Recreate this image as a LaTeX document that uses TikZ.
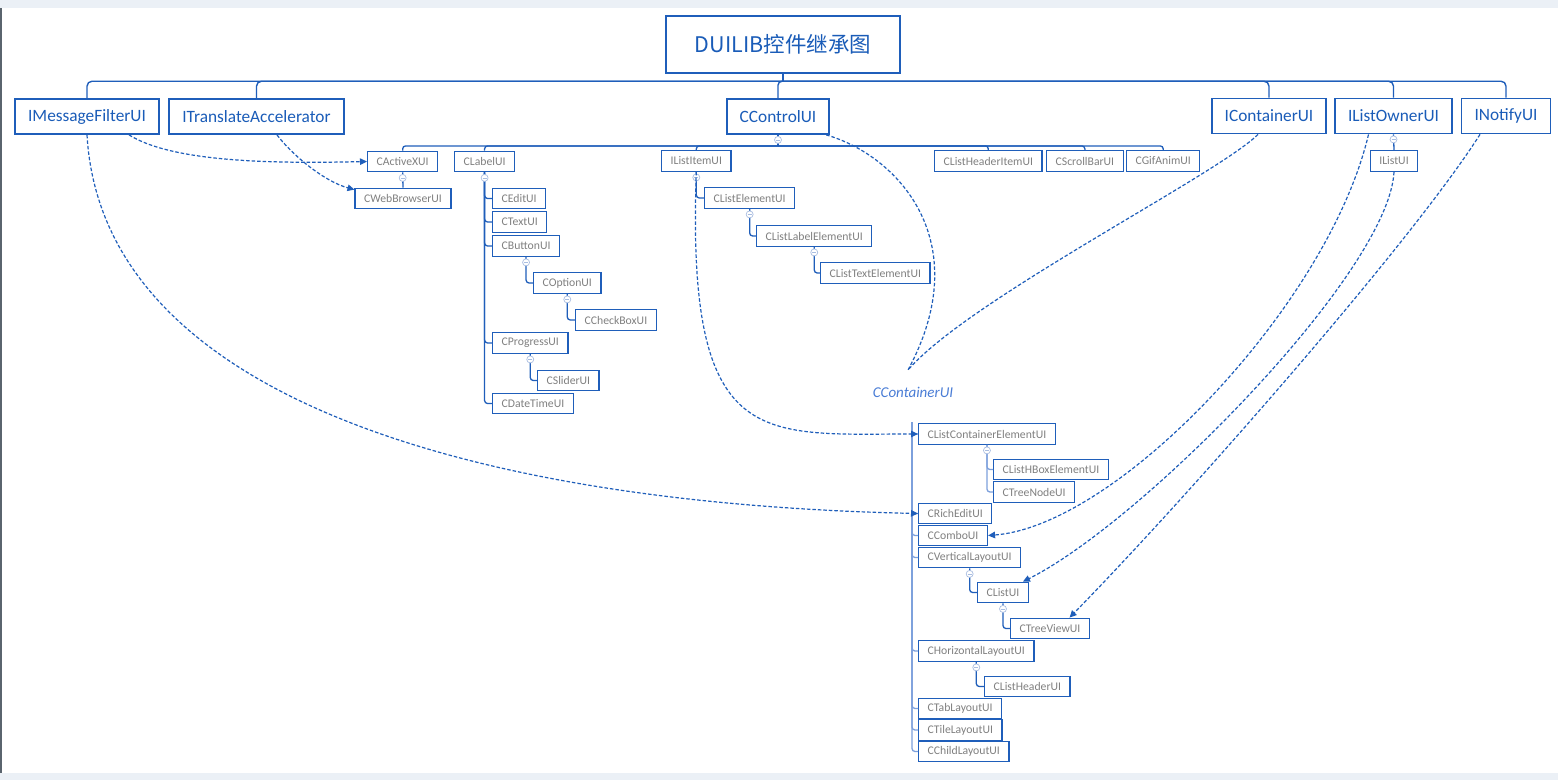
\documentclass[tikz,border=0pt]{standalone}
\usepackage{fontspec}
\setmainfont{Carlito}
\newfontfamily\cjkfont{Noto Sans CJK SC}
\usepackage{tikz}
\usetikzlibrary{arrows.meta}
\definecolor{duiblue}{RGB}{31,94,186}
\definecolor{toptext}{RGB}{26,92,184}
\definecolor{subtext}{RGB}{128,128,128}
\definecolor{foldring}{RGB}{170,190,225}
\definecolor{stemblue}{RGB}{125,160,220}
\definecolor{ghostblue}{RGB}{74,125,214}
\definecolor{bandgray}{RGB}{235,240,246}
\definecolor{edgegray}{RGB}{90,100,110}

\begin{document}
\begin{tikzpicture}[
        x=1pt, y=-1pt,
        titlebox/.style={rectangle, draw=duiblue, line width=2.4pt, fill=white, minimum height=57pt, inner xsep=29pt, inner ysep=0pt, text=toptext, font=\cjkfont\fontsize{21.5}{26}\selectfont},
        topclass/.style={rectangle, draw=duiblue, line width=1.8pt, fill=white, minimum height=35pt, inner xsep=13pt, inner ysep=0pt, text=toptext, font=\fontsize{17.3}{20}\selectfont},
        subclass/.style={rectangle, draw=duiblue, line width=1.3pt, fill=white, minimum height=20.5pt, inner xsep=9pt, inner ysep=0pt, text=subtext, font=\fontsize{11.7}{14}\selectfont},
        ghostlabel/.style={inner sep=2pt, text=ghostblue, font=\fontsize{15}{18}\selectfont\itshape},
        foldmark/.style={circle, draw=foldring, fill=white, line width=0.7pt, minimum size=7pt, inner sep=0pt,
            path picture={\draw[foldring, line width=0.7pt] ([xshift=-2pt]path picture bounding box.center) -- ([xshift=2pt]path picture bounding box.center);}},
        branch/.style={draw=duiblue, line width=1.3pt, rounded corners=3pt},
        lightbranch/.style={draw=stemblue, line width=1.3pt, rounded corners=3pt},
        implflow/.style={draw=duiblue, line width=1.2pt, dash pattern=on 3.5pt off 2pt, -{Triangle[length=7pt, width=6.5pt]}},
        implline/.style={draw=duiblue, line width=1.2pt, dash pattern=on 3.5pt off 2pt}
    ]
    \useasboundingbox (0,0) rectangle (1558,780);

    % Window frame
    \fill[white] (0,0) rectangle (1558,780);
    \fill[bandgray] (0,0) rectangle (1558,8);
    \fill[bandgray] (0,773) rectangle (1558,780);
    \fill[edgegray] (0,8) rectangle (2,773);

    % Root
    \node[titlebox] (title) at (783,44.5) {DUILIB控件继承图};

    % Top level classes
    \node[topclass] (msgfilter) at (87,116.5) {IMessageFilterUI};
    \node[topclass] (translate) at (256.5,116.5) {ITranslateAccelerator};
    \node[topclass] (control) at (778,116.5) {CControlUI};
    \node[topclass] (icontainer) at (1269,116) {IContainerUI};
    \node[topclass] (listowner) at (1393.5,116) {IListOwnerUI};
    \node[topclass] (inotify) at (1506,116) {INotifyUI};

    % CControlUI branch
    \node[subclass, anchor=west] (activex) at (367,161.5) {CActiveXUI};
    \node[subclass] (webbrowser) at (403,198.5) {CWebBrowserUI};
    \node[subclass, anchor=west] (label) at (454,161.5) {CLabelUI};
    \node[subclass, anchor=west] (edit) at (492,198.5) {CEditUI};
    \node[subclass, anchor=west] (text) at (492,222) {CTextUI};
    \node[subclass, anchor=west] (button) at (492,246) {CButtonUI};
    \node[subclass, anchor=west] (option) at (533,283) {COptionUI};
    \node[subclass, anchor=west] (checkbox) at (575,320) {CCheckBoxUI};
    \node[subclass, anchor=west] (progress) at (492,343) {CProgressUI};
    \node[subclass, anchor=west] (slider) at (537,380.5) {CSliderUI};
    \node[subclass, anchor=west] (datetime) at (492,403.5) {CDateTimeUI};
    \node[subclass, anchor=west] (listitem) at (661,161) {IListItemUI};
    \node[subclass, anchor=west] (listelem) at (704,198) {CListElementUI};
    \node[subclass, anchor=west] (listlabel) at (756,236) {CListLabelElementUI};
    \node[subclass, anchor=west] (listtext) at (820,273) {CListTextElementUI};
    \node[subclass, anchor=west] (headeritem) at (934,161) {CListHeaderItemUI};
    \node[subclass, anchor=west] (scrollbar) at (1046,161) {CScrollBarUI};
    \node[subclass, anchor=west] (gifanim) at (1126,161) {CGifAnimUI};
    \node[subclass] (ilistui) at (1394,161) {IListUI};

    % CContainerUI branch
    \node[ghostlabel] (container) at (913,392) {CContainerUI};
    \coordinate (containerstem) at (912,422);
    \node[subclass, anchor=west] (listcontainer) at (918,434) {CListContainerElementUI};
    \node[subclass, anchor=west] (hbox) at (993,469.5) {CListHBoxElementUI};
    \node[subclass, anchor=west] (treenode) at (993,492) {CTreeNodeUI};
    \node[subclass, anchor=west] (richedit) at (918,513.5) {CRichEditUI};
    \node[subclass, anchor=west] (combo) at (918,535.5) {CComboUI};
    \node[subclass, anchor=west] (vertical) at (918,557.5) {CVerticalLayoutUI};
    \node[subclass, anchor=west] (clistui) at (977,592.5) {CListUI};
    \node[subclass, anchor=west] (treeview) at (1010,628.5) {CTreeViewUI};
    \node[subclass, anchor=west] (horizontal) at (918,651) {CHorizontalLayoutUI};
    \node[subclass, anchor=west] (listheader) at (984,686.5) {CListHeaderUI};
    \node[subclass, anchor=west] (tab) at (918,708.5) {CTabLayoutUI};
    \node[subclass, anchor=west] (tile) at (918,730) {CTileLayoutUI};
    \node[subclass, anchor=west] (childlayout) at (918,751.5) {CChildLayoutUI};

    % Root links
    \coordinate (rootjoint) at ([yshift=-7pt]title.south);
    \draw[branch, line width=1.4pt] (title.south) -- (rootjoint);
    \draw[branch, line width=1.4pt, rounded corners=5pt] (rootjoint) -| (msgfilter.north);
    \draw[branch, line width=1.4pt, rounded corners=5pt] (rootjoint) -| (translate.north);
    \draw[branch, line width=1.4pt, rounded corners=4pt] (rootjoint) -| (control.north);
    \draw[branch, line width=1.4pt, rounded corners=5pt] (rootjoint) -| (icontainer.north);
    \draw[branch, line width=1.4pt, rounded corners=5pt] (rootjoint) -| (listowner.north);
    \draw[branch, line width=1.4pt, rounded corners=5pt] (rootjoint) -| (inotify.north);

    % CControlUI links
    \coordinate (controljoint) at ([yshift=-11pt]control.south);
    \draw[branch] (control.south) -- (controljoint);
    \draw[branch] (controljoint) -| (activex.north);
    \draw[branch] (controljoint) -| (label.north);
    \draw[branch] (controljoint) -| (listitem.north);
    \draw[branch] (controljoint) -| (headeritem.north);
    \draw[branch] (controljoint) -| (scrollbar.north);
    \draw[branch] (controljoint) -| (gifanim.north);
    \draw[branch] (activex.south) -- (webbrowser.north);
    \draw[branch] (label.south) |- (edit.west);
    \draw[branch] (label.south) |- (text.west);
    \draw[branch] (label.south) |- (button.west);
    \draw[branch] (label.south) |- (progress.west);
    \draw[branch] (label.south) |- (datetime.west);
    \draw[branch] (button.south) |- (option.west);
    \draw[branch] (option.south) |- (checkbox.west);
    \draw[branch] (progress.south) |- (slider.west);
    \draw[branch] (listitem.south) |- (listelem.west);
    \draw[branch] (listelem.south) |- (listlabel.west);
    \draw[branch] (listlabel.south) |- (listtext.west);
    \draw[branch] (listowner.south) -- (ilistui.north);

    % CContainerUI links
    \draw[lightbranch] (containerstem) |- (listcontainer.west);
    \draw[lightbranch] (containerstem) |- (richedit.west);
    \draw[lightbranch] (containerstem) |- (combo.west);
    \draw[lightbranch] (containerstem) |- (vertical.west);
    \draw[lightbranch] (containerstem) |- (horizontal.west);
    \draw[lightbranch] (containerstem) |- (tab.west);
    \draw[lightbranch] (containerstem) |- (tile.west);
    \draw[lightbranch] (containerstem) |- (childlayout.west);
    \draw[lightbranch] (listcontainer.south) |- (hbox.west);
    \draw[lightbranch] (listcontainer.south) |- (treenode.west);
    \draw[branch] (vertical.south) |- (clistui.west);
    \draw[branch] (clistui.south) |- (treeview.west);
    \draw[branch] (horizontal.south) |- (listheader.west);

    % Fold marks
    \node[foldmark] (fcontrol) at ([yshift=-5pt]control.south) {};
    \node[foldmark] (flistowner) at ([yshift=-5pt]listowner.south) {};
    \node[foldmark] (factivex) at ([yshift=-5.5pt]activex.south) {};
    \node[foldmark] (flabel) at ([yshift=-5.5pt]label.south) {};
    \node[foldmark] (fbutton) at ([yshift=-5.5pt]button.south) {};
    \node[foldmark] (foption) at ([yshift=-5.5pt]option.south) {};
    \node[foldmark] (fprogress) at ([yshift=-5.5pt]progress.south) {};
    \node[foldmark] (flistitem) at ([yshift=-5.5pt]listitem.south) {};
    \node[foldmark] (flistelem) at ([yshift=-5.5pt]listelem.south) {};
    \node[foldmark] (flistlabel) at ([yshift=-5.5pt]listlabel.south) {};
    \node[foldmark] (flistcontainer) at ([yshift=-5.5pt]listcontainer.south) {};
    \node[foldmark] (fvertical) at ([yshift=-5.5pt]vertical.south) {};
    \node[foldmark] (fclistui) at ([yshift=-5.5pt]clistui.south) {};
    \node[foldmark] (fhorizontal) at ([yshift=-5.5pt]horizontal.south) {};

    % Interface implementations
    \draw[implflow] ([xshift=42pt]msgfilter.south) .. controls +(45,28) and +(-90,2) .. (activex.west);
    \draw[implflow] ([xshift=20.5pt]translate.south) .. controls +(15,20) and +(-30,-8) .. ([yshift=-2pt]webbrowser.north west);
    \draw[implflow] (msgfilter.south) .. controls +(15,260) and +(-450,-10) .. (richedit.west);
    \draw[implflow] (listitem.south) .. controls +(-10,279) and +(-158,0) .. (listcontainer.west);
    \draw[implline] ([xshift=-4pt]control.south east) .. controls +(70,20) and +(70,-130) .. ([xshift=-5pt, yshift=22pt]container.center);
    \draw[implline] ([xshift=-11pt]icontainer.south) .. controls +(-40,40) and +(60,-70) .. ([xshift=-5pt, yshift=22pt]container.center);
    \draw[implflow] ([xshift=-25pt]listowner.south) .. controls +(-40,170) and +(130,-10) .. (combo.east);
    \draw[implflow] (ilistui.south) .. controls +(-5,100) and +(120,-60) .. ([xshift=-6pt]clistui.north east);
    \draw[implflow] ([xshift=-26pt]inotify.south) .. controls +(-70,110) and +(112,-114) .. ([xshift=19.5pt]treeview.north);

\end{tikzpicture}
\end{document}
